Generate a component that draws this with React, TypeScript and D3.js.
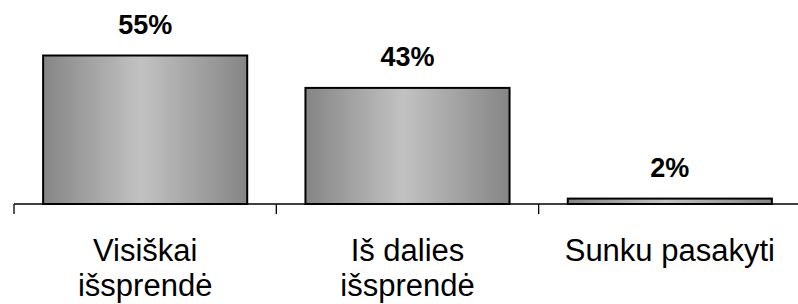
import React, { useEffect, useRef } from 'react';
import * as d3 from 'd3';

const categories: string[][] = [['Visiškai', 'išsprendė'], ['Iš dalies', 'išsprendė'], ['Sunku pasakyti']];
const values: number[] = [55, 43, 2];
const valueLabels: string[] = ['55%', '43%', '2%'];

export default function App() {
  const svgRef = useRef<SVGSVGElement>(null);

  useEffect(() => {
    const svg = d3.select(svgRef.current);
    svg.selectAll('*').remove();

    const width = 798;
    const height = 304;
    const baseY = 204;

    // band per category
    const x = d3.scaleBand<number>()
      .domain(d3.range(values.length))
      .range([14, 801])
      .paddingInner(0.222)
      .paddingOuter(0.111);

    const y = d3.scaleLinear()
      .domain([0, 60])
      .range([baseY, 42]);

    // gradient
    const grad = svg.append('defs').append('linearGradient')
      .attr('id', 'barGrad')
      .attr('x1', '0%').attr('x2', '100%')
      .attr('y1', '0%').attr('y2', '0%');
    grad.append('stop').attr('offset', '0%').attr('stop-color', '#858585');
    grad.append('stop').attr('offset', '48%').attr('stop-color', '#c2c2c2');
    grad.append('stop').attr('offset', '100%').attr('stop-color', '#858585');

    // bars
    svg.append('g')
      .selectAll('rect')
      .data(values)
      .join('rect')
      .attr('x', (_, i) => x(i)!)
      .attr('y', (d) => y(d))
      .attr('width', x.bandwidth())
      .attr('height', (d) => baseY - y(d))
      .attr('fill', 'url(#barGrad)')
      .attr('stroke', '#000')
      .attr('stroke-width', 2);

    // axis line + ticks
    const step = x.step();
    const tickXs = d3.range(values.length + 1).map((i) => 14 + i * step);
    svg.append('line')
      .attr('x1', 14).attr('x2', width)
      .attr('y1', baseY).attr('y2', baseY)
      .attr('stroke', '#000').attr('stroke-width', 1.3);
    svg.append('g')
      .selectAll('line')
      .data(tickXs)
      .join('line')
      .attr('x1', (d) => d).attr('x2', (d) => d)
      .attr('y1', baseY).attr('y2', baseY + 10)
      .attr('stroke', '#000').attr('stroke-width', 1.3);

    // value labels
    svg.append('g')
      .selectAll('text')
      .data(values)
      .join('text')
      .attr('x', (_, i) => x(i)! + x.bandwidth() / 2)
      .attr('y', (d) => y(d) - 22)
      .attr('text-anchor', 'middle')
      .style('font-family', '"Liberation Sans", Arial, sans-serif')
      .style('font-weight', 'bold')
      .style('font-size', '27px')
      .text((_, i) => valueLabels[i]);

    // category labels
    const cat = svg.append('g')
      .selectAll('text')
      .data(categories)
      .join('text')
      .attr('x', (_, i) => x(i)! + x.bandwidth() / 2)
      .attr('y', 261)
      .attr('text-anchor', 'middle')
      .style('font-family', '"Liberation Sans", Arial, sans-serif')
      .style('font-size', '31px');
    cat.selectAll('tspan')
      .data((d) => d)
      .join('tspan')
      .attr('x', function () {
        return (this.parentNode as SVGTextElement).getAttribute('x');
      })
      .attr('dy', (_, j) => (j === 0 ? 0 : 35))
      .text((d) => d);

    svg.attr('width', width).attr('height', height);
  }, []);

  return (
    <svg
      ref={svgRef}
      style={{ position: 'absolute', left: 0, top: 0, background: '#fff' }}
    />
  );
}
